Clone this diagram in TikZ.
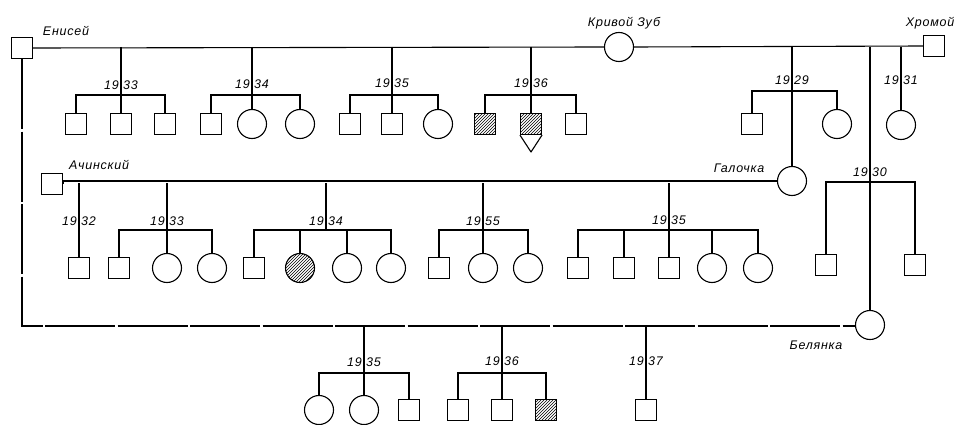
\documentclass[tikz,border=0pt]{standalone}
\usepackage{fontspec}
\newfontfamily\lab[LetterSpace=6]{Liberation Sans}
\usetikzlibrary{patterns}
\tikzset{
  ln/.style={line width=1.1pt},
  sq/.style={draw, rectangle, minimum size=21pt, inner sep=0pt, line width=1.1pt},
  ci/.style={draw, circle, minimum size=29pt, inner sep=0pt, line width=1.1pt},
  hat/.style={pattern=north east lines},
  nm/.style={font=\lab\itshape\fontsize{12.5}{14}\selectfont, inner sep=0pt},
  yl/.style={font=\lab\itshape\fontsize{12.5}{14}\selectfont, inner sep=0pt, anchor=east},
  yr/.style={font=\lab\itshape\fontsize{12.5}{14}\selectfont, inner sep=0pt, anchor=west},
  brk/.style={line width=1.1pt, dash pattern=on 70pt off 2.5pt}
}
\begin{document}
\begin{tikzpicture}[x=1pt,y=-1pt]
\useasboundingbox (0,0) rectangle (968,425);
% ---------- parents ----------
\node[sq] (enisey) at (22,48) {};
\node[ci] (kz) at (619,47) {};
\node[sq] (khr) at (934,46) {};
\node[sq] (ach) at (52,184) {};
\node[ci] (gal) at (792,181) {};
\node[ci] (bel) at (870,325) {};
\node[nm] (tEn) at (66,31) {Енисей};
\node[nm] (tKz) at (624,23) {Кривой Зуб};
\node[nm] (tKh) at (930,23) {Хромой};
\node[nm] (tAc) at (99,165) {Ачинский};
\node[nm] (tGa) at (739,168) {Галочка};
\node[nm] (tBe) at (816,345) {Белянка};
% ---------- mating lines ----------
\draw[ln] (enisey.east) -- (kz.west);
\draw[ln] (kz.east) -- (khr.west);
\draw[ln] (ach.east) |- (gal.west);
\coordinate (eb) at (22,326);
\draw[brk] (enisey.south) -- (eb) -- (bel.west |- eb) -- (bel.west);
% coordinates on mating lines
\coordinate (m33) at (121,47);
\coordinate (m34) at (252,47);
\coordinate (m35) at (392,47);
\coordinate (m36) at (531,47);
\coordinate (m29) at (792,47);
\coordinate (mB) at (870,47);
\coordinate (m31) at (901,47);
\coordinate (n32) at (79,183);
\coordinate (n33) at (167,183);
\coordinate (n34) at (326,183);
\coordinate (n35) at (483,183);
\coordinate (n36) at (669,183);
\coordinate (b35) at (364,326);
\coordinate (b36) at (502,326);
\coordinate (b37) at (646,326);
% ---------- top row children ----------
\node[sq] (a1) at (76,124) {};
\node[sq] (a2) at (121,124) {};
\node[sq] (a3) at (165,124) {};
\node[sq] (b1) at (211,124) {};
\node[ci] (b2) at (252,124) {};
\node[ci] (b3) at (300,124) {};
\node[sq] (c1) at (350,124) {};
\node[sq] (c2) at (392,124) {};
\node[ci] (c3) at (438,124) {};
\node[sq,hat] (d1) at (485,124) {};
\node[sq,hat] (d2) at (531,124) {};
\node[sq] (d3) at (576,124) {};
\coordinate (d2tip) at (531,152);
\draw[line width=1.1pt, line join=round] (d2.south west) -- (d2tip) -- (d2.south east);
\node[sq] (e1) at (752,124) {};
\node[ci] (e2) at (837,124) {};
\node[ci] (f1) at (901,125) {};
% sibships top
\draw[ln] (m33) -- (m33 |- 0,95);
\draw[ln] (a1.north) |- (a3.north |- 0,95) -- (a3.north);
\draw[ln] (a2.north) -- (a2.north |- 0,95);
\draw[ln] (m34) -- (b2.north);
\draw[ln] (b1.north) |- (b3.north |- 0,95) -- (b3.north);
\draw[ln] (m35) -- (c2.north);
\draw[ln] (c1.north) |- (c3.north |- 0,95) -- (c3.north);
\draw[ln] (m36) -- (d2.north);
\draw[ln] (d1.north) |- (d3.north |- 0,95) -- (d3.north);
\draw[ln] (m29) -- (gal.north);
\draw[ln] (e1.north) |- (e2.north |- 0,91) -- (e2.north);
\draw[ln] (m31) -- (f1.north);
\draw[ln] (mB) -- (bel.north);
% 1930
\node[sq] (g1) at (826,265) {};
\node[sq] (g2) at (915,265) {};
\draw[ln] (g1.north) |- (g2.north |- 0,182) -- (g2.north);
% ---------- second row children ----------
\node[sq] (h1) at (79,268) {};
\node[sq] (i1) at (119,268) {};
\node[ci] (i2) at (167,268) {};
\node[ci] (i3) at (212,268) {};
\node[sq] (j1) at (254,268) {};
\node[ci,hat] (j2) at (300,268) {};
\node[ci] (j3) at (347,268) {};
\node[ci] (j4) at (391,268) {};
\node[sq] (k1) at (439,268) {};
\node[ci] (k2) at (483,268) {};
\node[ci] (k3) at (528,268) {};
\node[sq] (l1) at (578,268) {};
\node[sq] (l2) at (624,268) {};
\node[sq] (l3) at (669,268) {};
\node[ci] (l4) at (712,268) {};
\node[ci] (l5) at (758,268) {};
\draw[ln] (n32) -- (h1.north);
\draw[ln] (n33) -- (i2.north);
\draw[ln] (i1.north) |- (i3.north |- 0,230) -- (i3.north);
\draw[ln] (n34) -- (n34 |- 0,230);
\draw[ln] (j1.north) |- (j4.north |- 0,230) -- (j4.north);
\draw[ln] (j2.north) -- (j2.north |- 0,230);
\draw[ln] (j3.north) -- (j3.north |- 0,230);
\draw[ln] (n35) -- (k2.north);
\draw[ln] (k1.north) |- (k3.north |- 0,230) -- (k3.north);
\draw[ln] (n36) -- (l3.north);
\draw[ln] (l1.north) |- (l5.north |- 0,230) -- (l5.north);
\draw[ln] (l2.north) -- (l2.north |- 0,230);
\draw[ln] (l4.north) -- (l4.north |- 0,230);
% ---------- third row children ----------
\node[ci] (p1) at (319,410) {};
\node[ci] (p2) at (364,410) {};
\node[sq] (p3) at (409,410) {};
\node[sq] (q1) at (458,410) {};
\node[sq] (q2) at (502,410) {};
\node[sq,hat] (q3) at (546,410) {};
\node[sq] (r1) at (646,410) {};
\draw[ln] (b35) -- (p2.north);
\draw[ln] (p1.north) |- (p3.north |- 0,373) -- (p3.north);
\draw[ln] (b36) -- (q2.north);
\draw[ln] (q1.north) |- (q3.north |- 0,373) -- (q3.north);
\draw[ln] (b37) -- (r1.north);
% ---------- year labels ----------
\foreach \x/\yy/\y in {121/33/85, 252/34/84, 392/35/83, 531/36/83, 792/29/80, 901/31/80,
                       870/30/172, 79/32/221, 167/33/221, 326/34/221, 483/55/221, 669/35/220,
                       364/35/362, 502/36/361, 646/37/361}{
  \node[yl] at (\x-2,\y) {19};
  \node[yr] at (\x+2,\y) {\yy};
}
\end{tikzpicture}
\end{document}
